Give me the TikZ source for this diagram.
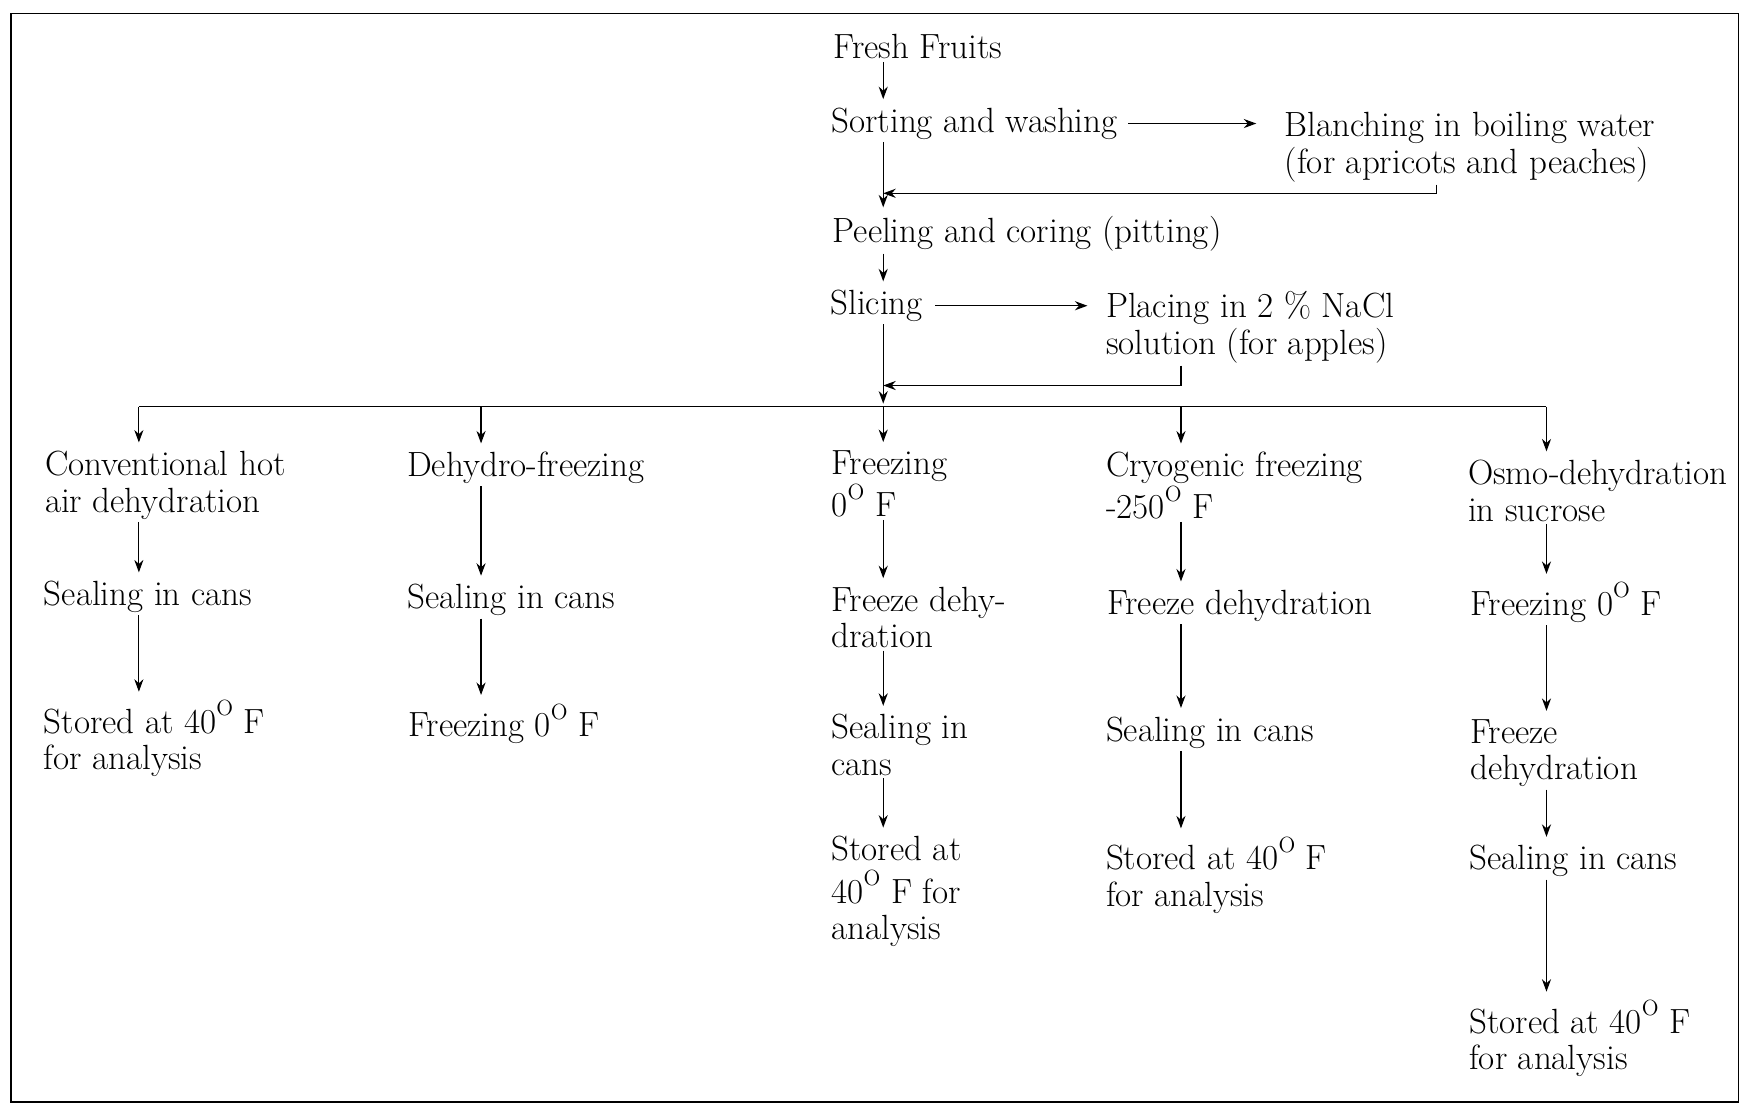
\documentclass[tikz,border=0pt]{standalone}
\usepackage{tikz}
\usetikzlibrary{arrows.meta}
\newcommand{\supO}{\raisebox{0.5em}{\fontsize{11}{11}\selectfont O}}

\begin{document}
\begin{tikzpicture}[x=0.5556pt,y=-0.5556pt,>={Stealth[length=2.2mm,width=1.6mm]},line width=0.6pt,
  font=\fontsize{17.5}{18.3}\selectfont,
  stage/.style={anchor=base west,inner xsep=0pt,inner ysep=1pt,align=left},
  flow/.style={->,shorten >=3pt}]
\useasboundingbox (0,0) rectangle (1568,996);
\draw[line width=0.8pt] (10,12) rectangle (1565,992);

% preparation steps (base = last line)
\node[stage] (fresh) at (750,53) {Fresh Fruits};
\node[stage] (sort) at (748,119) {Sorting and washing};
\node[stage] (blanch) at (1156,156) {Blanching in boiling water\\(for apricots and peaches)};
\node[stage] (peel) at (749,218) {Peeling and coring (pitting)};
\node[stage] (slice) at (747,283) {Slicing};
\node[stage] (nacl) at (995,319) {Placing in 2 \% NaCl\\solution (for apples)};

\coordinate (cM) at (795,366);
\coordinate (k1) at (125,366);
\coordinate (k2) at (433,366);
\coordinate (k4) at (1063,366);
\coordinate (k5) at (1392,366);
\coordinate (r1) at (1293,174);
\coordinate (r2) at (1063,347);

% five treatments
\node[stage] (conv) at (40,461) {Conventional hot\\air dehydration};
\node[stage] (dehyd) at (366,429) {Dehydro-freezing};
\node[stage] (frz) at (748,465) {Freezing\\0\supO{} F};
\node[stage] (cryo) at (995,467) {Cryogenic freezing\\-250\supO{} F};
\node[stage] (osmo) at (1321,469) {Osmo-dehydration\\in sucrose};

\node[stage] (seal1) at (39,545) {Sealing in cans};
\node[stage] (seal2) at (366,548) {Sealing in cans};
\node[stage] (fdry3) at (748,583) {Freeze dehy-\\dration};
\node[stage] (fdry4) at (996,553) {Freeze dehydration};
\node[stage] (frz5) at (1323,554) {Freezing 0\supO{} F};

\node[stage] (store1) at (39,693) {Stored at 40\supO{} F\\for analysis};
\node[stage] (frz2) at (367,663) {Freezing 0\supO{} F};
\node[stage] (seal3) at (748,698) {Sealing in\\cans};
\node[stage] (seal4) at (995,667) {Sealing in cans};
\node[stage] (fdry5) at (1323,702) {Freeze\\dehydration};

\node[stage] (store3) at (748,846) {Stored at\\[3pt]40\supO{} F for\\analysis};
\node[stage] (store4) at (995,816) {Stored at 40\supO{} F\\for analysis};
\node[stage] (seal5) at (1322,783) {Sealing in cans};
\node[stage] (store5) at (1322,963) {Stored at 40\supO{} F\\for analysis};

% main line
\draw[flow] (fresh.south -| cM) -- (sort.north -| cM);
\draw[flow] (sort.south -| cM) -- (peel.north -| cM);
\draw[flow] (peel.south -| cM) -- (slice.north -| cM);
\draw[flow,shorten >=1.5pt] (slice.south -| cM) -- (cM);
\draw[flow] (cM) -- (frz.north -| cM);
\draw[->,shorten <=5pt,shorten >=14pt] (sort.east) -- (sort.east -| blanch.west);
\draw[->,shorten <=6pt,shorten >=9pt] (slice.east) -- (slice.east -| nacl.west);
\draw[->] (blanch.south -| r1) -- (r1) -- (r1 -| cM);
\draw[->] (nacl.south -| r2) -- (r2) -- (r2 -| cM);

% branches
\draw (k1) -- (k5);
\draw[flow] (k1) -- (conv.north -| k1);
\draw[flow] (k2) -- (dehyd.north -| k2);
\draw[flow] (k4) -- (cryo.north -| k4);
\draw[flow] (k5) -- (osmo.north -| k5);

\draw[flow] (conv.south -| k1) -- (seal1.north -| k1);
\draw[flow] (seal1.south -| k1) -- (store1.north -| k1);
\draw[flow] (dehyd.south -| k2) -- (seal2.north -| k2);
\draw[flow] (seal2.south -| k2) -- (frz2.north -| k2);
\draw[flow] (frz.south -| cM) -- (fdry3.north -| cM);
\draw[flow] (fdry3.south -| cM) -- (seal3.north -| cM);
\draw[flow] (seal3.south -| cM) -- (store3.north -| cM);
\draw[flow] (cryo.south -| k4) -- (fdry4.north -| k4);
\draw[flow] (fdry4.south -| k4) -- (seal4.north -| k4);
\draw[flow] (seal4.south -| k4) -- (store4.north -| k4);
\draw[flow] (osmo.south -| k5) -- (frz5.north -| k5);
\draw[flow] (frz5.south -| k5) -- (fdry5.north -| k5);
\draw[flow] (fdry5.south -| k5) -- (seal5.north -| k5);
\draw[flow] (seal5.south -| k5) -- (store5.north -| k5);
\end{tikzpicture}
\end{document}
